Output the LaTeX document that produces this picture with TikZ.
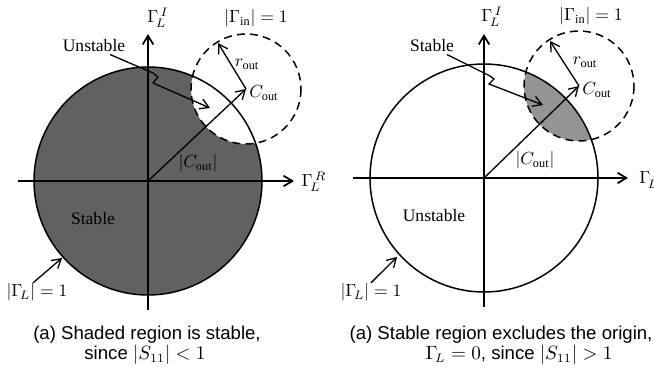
\documentclass[tikz,border=0pt]{standalone}
\usepackage{fontspec}
\setmainfont{Liberation Serif}
\newfontfamily\capfont{Liberation Sans}
\usetikzlibrary{arrows.meta}
\begin{document}
\begin{tikzpicture}[x=0.57pt,y=-0.57pt,
  >={Straight Barb[length=5pt,width=6pt]},
  lbl/.style={font=\fontsize{10}{12}\selectfont, inner sep=0pt},
  captext/.style={font=\capfont\fontsize{10.6}{13}\selectfont, inner sep=0pt},
  unitc/.style={line width=0.85pt},
  dashc/.style={line width=0.85pt, dash pattern=on 4.5pt off 3pt},
  axisl/.style={line width=1pt, ->},
  leader/.style={line width=0.75pt},
  shadeL/.style={fill=black!62},
  shadeR/.style={fill=black!42}]
\useasboundingbox (0,0) rectangle (654,367);
% ---------------- left diagram ----------------
\coordinate (O1) at (148,181);
\coordinate (C1) at (246,89);
\begin{scope}
  \clip (O1) circle [radius=114];
  \fill[shadeL, even odd rule] (O1) circle [radius=114] (C1) circle [radius=55];
\end{scope}
\draw[unitc] (O1) circle [radius=114];
\draw[dashc] (C1) circle [radius=55];
\coordinate (h1a) at (18,181);
\coordinate (h1b) at (294,181);
\coordinate (v1a) at (148,310);
\coordinate (v1b) at (148,34);
\draw[axisl] (h1a) -- (h1b);
\draw[axisl] (v1a) -- (v1b);
\node[lbl] (gi1) at (158,18) {$\Gamma_{\!L}^{\,I}$};
\node[lbl] (gr1) at (314,182) {$\Gamma_{\!L}^{\,R}$};
\draw[leader,->] (O1) -- (C1);
\coordinate (R1) at (218,43);
\draw[leader,->] (C1) -- (R1);
\node[lbl, anchor=west] (cl1) at (249,93) {$C_{\mathrm{out}}$};
\node[lbl] (rl1) at (247,64) {$r_{\mathrm{out}}$};
\node[lbl] (gin1) at (256,18) {$|\Gamma_{\mathrm{in}}| = 1$};
\node[lbl] (cm1) at (198,163) {$|C_{\mathrm{out}}|$};
\node[lbl] (st1) at (93,218) {Stable};
\node[lbl] (un1) at (94,46) {Unstable};
\coordinate (ua1) at (210,108);
\draw[leader,->] ([shift={(16,2)}]un1.south) -- (153,73) -- (158,77) -- (153,83) -- (ua1);
\node[lbl] (gl1) at (37,292) {$|\Gamma_{\!L}| = 1$};
\coordinate (gt1) at (62,258);
\draw[leader,->] ([shift={(-4,0)}]gl1.north) -- (gt1);
\node[captext] (cap1a) at (147,335) {(a) Shaded region is stable,};
\node[captext] (cap1b) at (145,355) {since $|S_{11}| < 1$};
% ---------------- right diagram ----------------
\coordinate (O2) at (484,178);
\coordinate (C2) at (579,86);
\begin{scope}
  \clip (O2) circle [radius=114];
  \fill[shadeR] (C2) circle [radius=55];
\end{scope}
\draw[unitc] (O2) circle [radius=114];
\draw[dashc] (C2) circle [radius=55];
\coordinate (h2a) at (353,178);
\coordinate (h2b) at (628,178);
\coordinate (v2a) at (484,307);
\coordinate (v2b) at (484,34);
\draw[axisl] (h2a) -- (h2b);
\draw[axisl] (v2a) -- (v2b);
\node[lbl] (gi2) at (492,17) {$\Gamma_{\!L}^{\,I}$};
\node[lbl] (gr2) at (650,179) {$\Gamma_{\!L}^{\,I}$};
\draw[leader,->] (O2) -- (C2);
\coordinate (R2) at (550,41);
\draw[leader,->] (C2) -- (R2);
\node[lbl, anchor=west] (cl2) at (582,90) {$C_{\mathrm{out}}$};
\node[lbl] (rl2) at (585,62) {$r_{\mathrm{out}}$};
\node[lbl] (gin2) at (591,16) {$|\Gamma_{\mathrm{in}}| = 1$};
\node[lbl] (cm2) at (535,160) {$|C_{\mathrm{out}}|$};
\node[lbl] (un2) at (434,215) {Unstable};
\node[lbl] (st2) at (432,45) {Stable};
\coordinate (sa2) at (543,105);
\draw[leader,->] ([shift={(15,3)}]st2.south) -- (490,76) -- (494,79) -- (489,84) -- (sa2);
\node[lbl] (gl2) at (371,292) {$|\Gamma_{\!L}| = 1$};
\coordinate (gt2) at (397,257);
\draw[leader,->] (gl2.north) -- (gt2);
\node[captext] (cap2a) at (501,335) {(a) Stable region excludes the origin,};
\node[captext] (cap2b) at (519,355) {$\Gamma_{\!L} = 0$, since $|S_{11}| > 1$};
\end{tikzpicture}
\end{document}
